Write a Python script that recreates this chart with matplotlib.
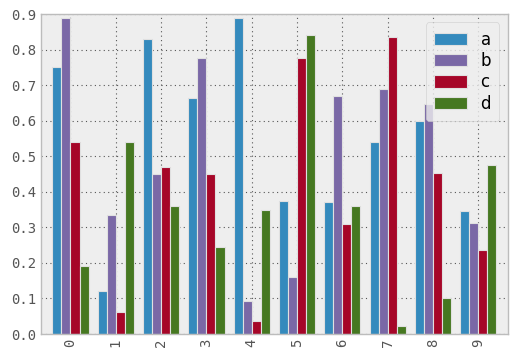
import matplotlib
matplotlib.use("Agg")
import matplotlib.pyplot as plt
import pandas as pd

# values
a = [0.75, 0.12, 0.83, 0.665, 0.89, 0.375, 0.372, 0.54, 0.60, 0.345]
b = [0.89, 0.335, 0.45, 0.775, 0.093, 0.16, 0.668, 0.69, 0.648, 0.313]
c = [0.54, 0.063, 0.47, 0.45, 0.036, 0.775, 0.31, 0.835, 0.454, 0.237]
d = [0.19, 0.54, 0.36, 0.245, 0.348, 0.84, 0.36, 0.023, 0.10, 0.474]

df = pd.DataFrame({"a": a, "b": b, "c": c, "d": d})

plt.style.use("bmh")
fig = plt.figure(figsize=(5.16, 3.59), dpi=100)
ax = fig.add_axes([0.0795, 0.0696, 0.9045, 0.8914])
df.plot.bar(ax=ax, width=0.8, color=["#348ABD", "#7A68A6", "#A60628", "#467821"],
            edgecolor="#e0e0e0", linewidth=0.8)

ax.set_facecolor("#EEEEEE")
ax.set_ylim(0, 0.9)
ax.grid(True, color="#555555", linestyle=(0, (1, 3)), linewidth=0.8)
ax.set_axisbelow(True)
for s in ax.spines.values():
    s.set_color("#bcbcbc")
    s.set_linewidth(1)
ax.tick_params(colors="#555555", length=0, labelsize=10)
for lab in ax.get_xticklabels() + ax.get_yticklabels():
    lab.set_family("DejaVu Sans Mono")
for lab in ax.get_xticklabels():
    lab.set_rotation(90)
leg = ax.legend(loc="upper right", fontsize=12, frameon=True,
                labelspacing=0.2, handlelength=2.0, handleheight=0.75,
                borderpad=0.5)
leg.get_frame().set_facecolor("#EEEEEE")
leg.get_frame().set_edgecolor("#cccccc")

fig.savefig("out.png", dpi=100)
